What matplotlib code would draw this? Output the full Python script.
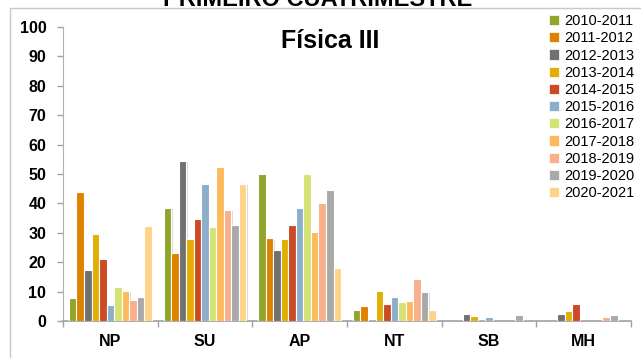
import matplotlib
matplotlib.use("Agg")
import matplotlib.pyplot as plt
import matplotlib.patches as mpatches
import matplotlib.patheffects as pe
import numpy as np

plt.rcParams['font.family'] = ['Liberation Sans Narrow', 'Liberation Sans', 'DejaVu Sans']

categories = ["NP", "SU", "AP", "NT", "SB", "MH"]
series_names = ["2010-2011", "2011-2012", "2012-2013", "2013-2014", "2014-2015",
                "2015-2016", "2016-2017", "2017-2018", "2018-2019", "2019-2020", "2020-2021"]
colors = ["#92A52A", "#DE8200", "#717171", "#E2AE06", "#CB4B24", "#8DAECB",
          "#D5E374", "#FDBA5C", "#F8B08B", "#A9A9A9", "#FFD38A"]

v_2010_2011 = [7.9, 38.5, 50.0, 3.7, 0.0, 0.0]
v_2011_2012 = [43.8, 23.2, 28.1, 5.2, 0.0, 0.0]
v_2012_2013 = [17.3, 54.5, 24.0, 0.0, 2.4, 2.4]
v_2013_2014 = [29.5, 27.8, 27.8, 10.2, 1.7, 3.5]
v_2014_2015 = [21.1, 34.8, 32.7, 5.9, 0.0, 5.9]
v_2015_2016 = [5.5, 46.6, 38.5, 8.3, 1.3, 0.0]
v_2016_2017 = [11.7, 32.0, 50.0, 6.6, 0.0, 0.0]
v_2017_2018 = [10.3, 52.5, 30.3, 6.9, 0.0, 0.0]
v_2018_2019 = [7.2, 37.9, 40.0, 14.2, 0.0, 1.4]
v_2019_2020 = [8.0, 32.8, 44.4, 10.0, 2.0, 2.0]
v_2020_2021 = [32.3, 46.6, 18.1, 3.7, 0.0, 0.0]

series = [v_2010_2011, v_2011_2012, v_2012_2013, v_2013_2014, v_2014_2015,
          v_2015_2016, v_2016_2017, v_2017_2018, v_2018_2019, v_2019_2020, v_2020_2021]

W, H = 641, 358
fig = plt.figure(figsize=(W / 100, H / 100), dpi=100)

# outer chart frame
fig.patches.append(mpatches.Rectangle((10 / W, -0.1), 1.2, (H - 8) / H + 0.1,
                                      transform=fig.transFigure, fill=False,
                                      edgecolor="#C8C8C8", linewidth=1.0))
fig.text(318 / W, 1 - 0 / H, "PRIMEIRO CUATRIMESTRE", ha="center", va="center",
         fontsize=17, fontweight="bold", color="black")

ax = fig.add_axes([63 / W, (H - 321) / H, (631 - 63) / W, (321 - 27) / H])
x = np.arange(len(categories))
n = len(series)
slot = 0.875 / n
bw = slot
for i, (vals, col, name) in enumerate(zip(series, colors, series_names)):
    offs = (i - (n - 1) / 2) * slot
    bars = ax.bar(x + offs, vals, width=bw, color=col, edgecolor="white",
                  linewidth=0.8, label=name, zorder=3)
    for b, v in zip(bars, vals):
        if v > 0:
            b.set_path_effects([pe.SimplePatchShadow(offset=(1, -1), shadow_rgbFace="#999999", alpha=0.35),
                                pe.Normal()])
        else:
            b.set_visible(False)

ax.set_xlim(-0.5, len(categories) - 0.5)
ax.set_ylim(0, 100)
ax.set_yticks(np.arange(0, 101, 10))
ax.set_xticks(x)
ax.set_xticklabels(categories)
ax.set_xticks(np.arange(-0.5, len(categories), 1), minor=True)
ax.tick_params(axis="x", which="major", length=0, pad=9, labelsize=11.5)
ax.tick_params(axis="x", which="minor", length=4, color="#A0A0A0", width=1)
ax.tick_params(axis="y", length=4, color="#A0A0A0", width=1, labelsize=11.5, pad=8)
for lab in ax.get_xticklabels() + ax.get_yticklabels():
    lab.set_fontweight("bold")
for s in ["top", "right"]:
    ax.spines[s].set_visible(False)
ax.spines["left"].set_color("#B0B0B0")
ax.spines["bottom"].set_color("#A0A0A0")
ax.spines["bottom"].set_linewidth(1.2)
ax.set_facecolor("none")

fig.text(330 / W, 1 - 41 / H, "Física III", ha="center", va="center",
         fontsize=18, fontweight="bold")

handles = [mpatches.Patch(facecolor=c, edgecolor="white", linewidth=0.5) for c in colors]
fig.legend(handles, series_names, loc="upper left", bbox_to_anchor=(539 / W, 1 - 4 / H),
           frameon=False, fontsize=10.5, handlelength=0.7, handleheight=0.7,
           handletextpad=0.3, labelspacing=0.22, borderpad=0.2)

fig.savefig("out.png", dpi=100)
